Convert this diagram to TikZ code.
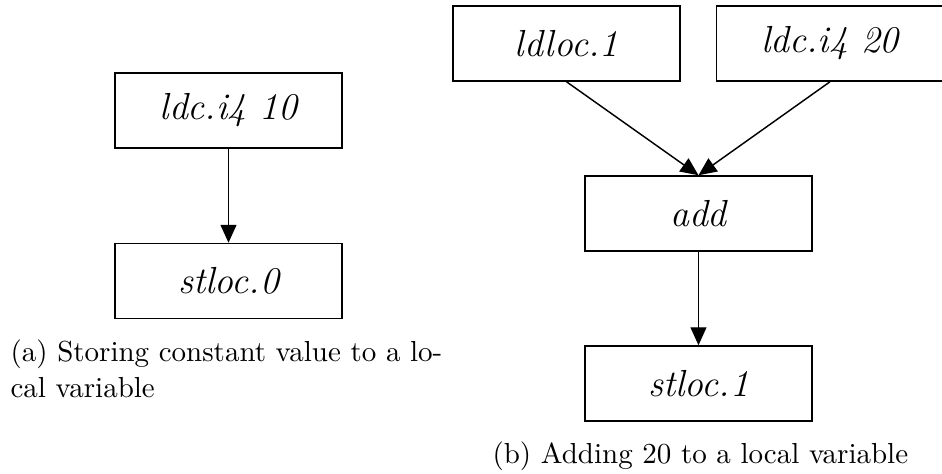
\documentclass[tikz,border=0pt]{standalone}
\usetikzlibrary{arrows.meta}
\begin{document}
\begin{tikzpicture}[x=0.345pt,y=-0.345pt,
  opbox/.style={draw, line width=0.5pt, minimum width=78.3pt, minimum height=25.9pt, inner sep=0pt, font=\fontsize{13}{15}\selectfont\itshape},
  flow/.style={-{Triangle[length=6.2pt,width=5.5pt]}, line width=0.5pt},
  capt/.style={anchor=base west, inner sep=0pt, align=left, font=\fontsize{10}{12.1}\selectfont}]
\useasboundingbox (0,0) rectangle (942,474);
\node[opbox] (a1) at (228.5,110.5) {ldc.i4 10};
\node[opbox] (a2) at (228.5,281) {stloc.0};
\node[opbox] (b1) at (566.5,43.5) {ldloc.1};
\node[opbox] (b2) at (830,43.5) {ldc.i4 20};
\node[opbox] (b3) at (698.5,213.5) {add};
\node[opbox] (b4) at (698.5,383.5) {stloc.1};
\draw[flow] (a1) -- (a2);
\draw[flow] (b1.south) -- (b3.north);
\draw[flow] (b2.south) -- (b3.north);
\draw[flow] (b3) -- (b4);
\node[capt] (ca) at (10,397) {(a) Storing constant value to a lo-\\cal variable};
\node[capt] (cb) at (492,463) {(b) Adding 20 to a local variable};
\end{tikzpicture}
\end{document}
